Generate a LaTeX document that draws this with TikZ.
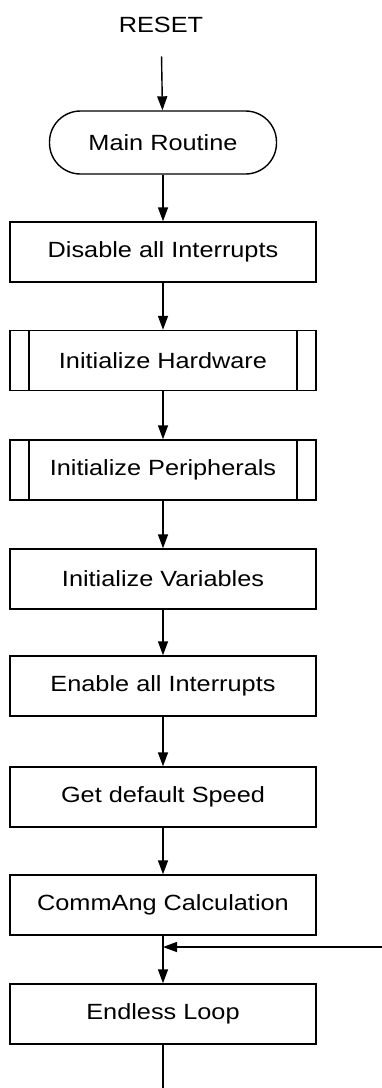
\documentclass[tikz,border=0pt]{standalone}
\usepackage{fontspec}
\setmainfont[FakeStretch=1.15]{Liberation Sans}
\usetikzlibrary{arrows.meta}

\tikzset{
  proc/.style={draw, line width=1.4pt, minimum width=306pt, minimum height=60pt, inner sep=0pt},
  term/.style={proc, minimum width=227pt, minimum height=63pt, rounded corners=31pt},
  subproc/.style={proc, path picture={
      \draw[line width=1.4pt] ([xshift=19pt]path picture bounding box.north west) -- ([xshift=19pt]path picture bounding box.south west);
      \draw[line width=1.4pt] ([xshift=-19pt]path picture bounding box.north east) -- ([xshift=-19pt]path picture bounding box.south east);}},
  arr/.style={line width=1.4pt, -{Triangle[width=10pt,length=14pt]}}
}

\begin{document}
\begin{tikzpicture}[x=1pt, y=-1pt, font=\fontsize{22}{26}\selectfont]
\useasboundingbox (0,0) rectangle (382,1088);

\node (reset) at (161,25) {RESET};
\node[term] (main) at (163,142.5) {Main Routine};
\node[proc] (dis) at (163,252) {Disable all Interrupts};
\node[subproc] (hw) at (163,360.5) {Initialize Hardware};
\node[subproc] (peri) at (163,470) {Initialize Peripherals};
\node[proc] (var) at (163,579) {Initialize Variables};
\node[proc] (ena) at (163,686) {Enable all Interrupts};
\node[proc] (spd) at (163,797) {Get default Speed};
\node[proc] (calc) at (163,905) {CommAng Calculation};
\node[proc] (loop) at (163,1014) {Endless Loop};
\coordinate (out) at (163,1088);
\coordinate (back) at (382,947);

\draw[arr, shorten <=20pt] (reset) -- (main);
\foreach \a/\b in {main/dis, dis/hw, hw/peri, peri/var, var/ena, ena/spd, spd/calc, calc/loop}
    {\draw[arr] (\a) -- (\b);}
\draw[line width=1.4pt] (loop) -- (out);
\draw[arr] (back) -- (back -| calc.south);

\end{tikzpicture}
\end{document}
